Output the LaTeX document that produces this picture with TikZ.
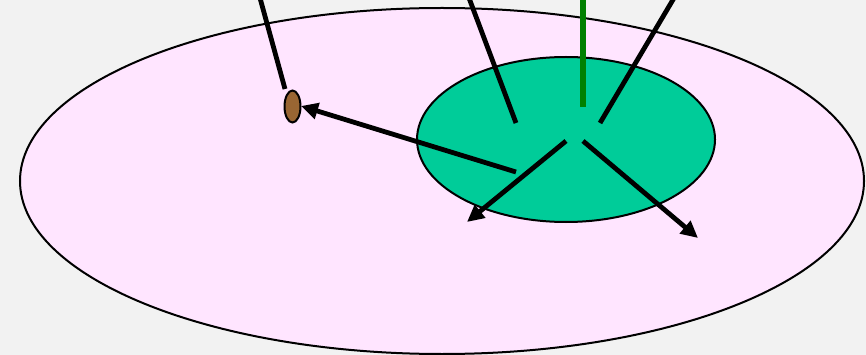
\documentclass[tikz,border=0pt]{standalone}
\usetikzlibrary{arrows.meta}
\definecolor{bgc}{HTML}{F2F2F2}
\definecolor{pinkc}{HTML}{FFE5FF}
\definecolor{greenc}{HTML}{00CC99}
\definecolor{brownc}{HTML}{996633}
\definecolor{stemc}{HTML}{008000}
\tikzset{
  blk/.style={line width=4.8pt, black},
  arr/.style={blk, -{Triangle[length=17pt,width=16pt]}},
  outline/.style={draw=black, line width=2pt}
}
\begin{document}
\begin{tikzpicture}[x=1pt,y=-1pt]
\fill[bgc] (0,0) rectangle (866,355);
\useasboundingbox (0,0) rectangle (866,355);
\begin{scope}
\clip (0,0) rectangle (866,355);
\filldraw[outline, fill=pinkc] (442,181) ellipse [x radius=422, y radius=173];
\filldraw[outline, fill=greenc] (566,139.5) ellipse [x radius=149, y radius=82.5];
\filldraw[outline, fill=brownc] (292.5,106.5) ellipse [x radius=8, y radius=16];
\coordinate (b) at (292.5,106.5);
\coordinate (t1) at (260,-2);
\coordinate (e1) at (285,89);
\coordinate (t2) at (469,-2);
\coordinate (e2) at (516,123);
\coordinate (t3) at (583,-2);
\coordinate (e3) at (583,107);
\coordinate (t4) at (674,-2);
\coordinate (e4) at (600,123);
\coordinate (s5) at (516,172);
\coordinate (h5) at (301,106);
\coordinate (s6) at (566,141);
\coordinate (h6) at (467,222);
\coordinate (s7) at (583,141);
\coordinate (h7) at (698,238);
\draw[blk] (t1) -- (e1);
\draw[blk] (t2) -- (e2);
\draw[line width=6.5pt, stemc] (t3) -- (e3);
\draw[blk] (t4) -- (e4);
\draw[arr] (s5) -- (h5);
\draw[arr] (s6) -- (h6);
\draw[arr] (s7) -- (h7);
\end{scope}
\end{tikzpicture}
\end{document}
